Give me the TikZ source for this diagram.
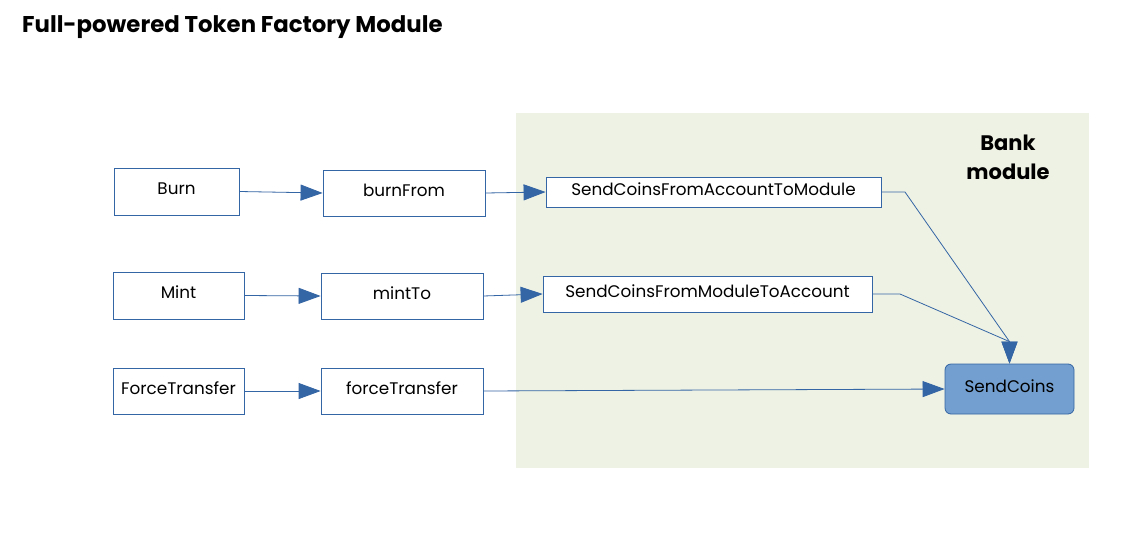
\documentclass[tikz,border=0pt]{standalone}
\usepackage{fontspec}
\setmainfont{Poppins}
\usetikzlibrary{arrows.meta,calc}
\definecolor{lblue}{HTML}{3465A4}
\definecolor{bankbg}{HTML}{EEF2E4}
\definecolor{scfill}{HTML}{729FCF}
\tikzset{
  box/.style={draw=lblue, line width=0.8pt, fill=white, inner sep=0pt, text height=12pt, text depth=6pt, font=\fontsize{16.8}{19}\selectfont},
  conn/.style={draw=lblue, line width=0.8pt, -{Triangle[length=22pt,width=16pt]}},
}
\begin{document}
\begin{tikzpicture}[x=1pt,y=-1pt]
\useasboundingbox (0,0) rectangle (1125,533);
\fill[white] (0,0) rectangle (1125,533);
\node[anchor=west, inner sep=0pt, font=\bfseries\fontsize{22.8}{26}\selectfont] (title) at (22,27) {Full-powered Token Factory Module};
\fill[bankbg] (516,113) rectangle (1089,468);
\node[align=center, font=\bfseries\fontsize{21}{29}\selectfont] (bank) at (1008,157) {Bank\\module};
\node[box, minimum width=125pt, minimum height=47pt] (burn) at (176.5,191.5) {Burn};
\node[box, minimum width=162pt, minimum height=46pt] (burnfrom) at (404,193) {burnFrom};
\node[box, minimum width=131pt, minimum height=47pt] (mint) at (178.5,295.5) {Mint};
\node[box, minimum width=162pt, minimum height=46pt] (mintto) at (402,296) {mintTo};
\node[box, minimum width=131pt, minimum height=46pt] (force) at (178.5,391) {ForceTransfer};
\node[box, minimum width=162pt, minimum height=46pt] (forcet) at (402,391) {forceTransfer};
\node[box, minimum width=335pt, minimum height=30pt] (scfa) at (713.5,192) {SendCoinsFromAccountToModule};
\node[box, minimum width=329pt, minimum height=36pt] (scfm) at (707.5,294) {SendCoinsFromModuleToAccount};
\node[box, fill=scfill, rounded corners=6pt, minimum width=129pt, minimum height=50pt] (send) at (1009.5,389) {SendCoins};
\coordinate (k1) at (905,192);
\coordinate (k2) at (900,294);
\coordinate (m) at ($(send.north)+(0,-22)$);
\draw[conn] (burn.east) -- (burnfrom.west);
\draw[conn] (burnfrom.east) -- (scfa.west);
\draw[conn] (mint.east) -- (mintto.west);
\draw[conn] (mintto.east) -- (scfm.west);
\draw[conn] (force.east) -- (forcet.west);
\draw[conn] (forcet.east) -- (send.west);
\draw[conn] (scfa.east) -- (k1) -- (m) -- (send.north);
\draw[conn] (scfm.east) -- (k2) -- (m) -- (send.north);
\end{tikzpicture}
\end{document}
